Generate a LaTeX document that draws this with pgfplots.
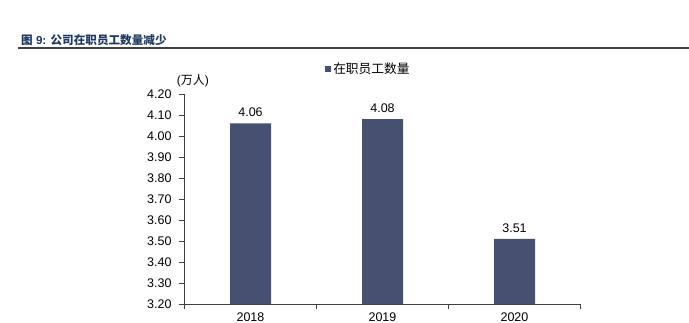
\documentclass[border=0pt]{standalone}
\usepackage{fontspec}
\setmainfont{Liberation Sans}
\newfontfamily\cjk{Noto Sans CJK SC}
\usepackage{pgfplots}
\pgfplotsset{compat=1.18}
\definecolor{barc}{HTML}{465070}
\definecolor{titlec}{HTML}{1F3864}
\definecolor{axc}{HTML}{404040}
\begin{document}
\begin{tikzpicture}[x=1pt,y=1pt]
\path[use as bounding box] (0,0) rectangle (689,322);
\node[anchor=west, inner sep=0pt, text=titlec, font=\fontsize{11.6}{13}\selectfont\bfseries] at (21,282) {{\cjk 图} 9: {\cjk 公司在职员工数量减少}};
\draw[axc, line width=2pt] (18,273.7) -- (689,273.7);
\begin{axis}[
  at={(184.5pt,18pt)}, anchor=south west,
  scale only axis, width=396pt, height=210pt,
  xmin=-0.5, xmax=2.5, ymin=3.2, ymax=4.2,
  axis x line=bottom, axis y line=left,
  axis line style={-, draw=axc, line width=0.8pt},
  xtick={-0.5,0.5,1.5,2.5}, x tick label as interval,
  xticklabels={2018,2019,2020},
  ytick={3.2,3.3,3.4,3.5,3.6,3.7,3.8,3.9,4.0,4.1,4.2},
  tick align=outside, major tick length=5pt,
  tick style={draw=axc, line width=0.8pt},
  /pgf/number format/assume math mode=true,
  yticklabel style={xshift=-4.5pt, /pgf/number format/.cd, fixed, fixed zerofill, precision=2},
  ticklabel style={font=\fontsize{12.5}{15}\selectfont},
  nodes near coords,
  every node near coord/.append style={font=\fontsize{12.5}{15}\selectfont, yshift=3pt, /pgf/number format/.cd, fixed, fixed zerofill, precision=2},
  legend style={at={(rel axis cs:0.355,1.119)}, anchor=west, draw=none, fill=none, inner sep=0pt, font=\fontsize{12.7}{15}\selectfont},
  legend image code/.code={\fill[barc] (0pt,-3pt) rectangle (6pt,3pt);},
  clip mode=individual,
]
\addplot[ybar, bar width=41pt, fill=barc, draw=none] coordinates {(0,4.06) (1,4.08) (2,3.51)};
\addlegendentry{\cjk 在职员工数量}
\node[font=\fontsize{12}{14}\selectfont] at (rel axis cs:0.021,1.063) {({\cjk 万人})};
\end{axis}
\end{tikzpicture}
\end{document}
